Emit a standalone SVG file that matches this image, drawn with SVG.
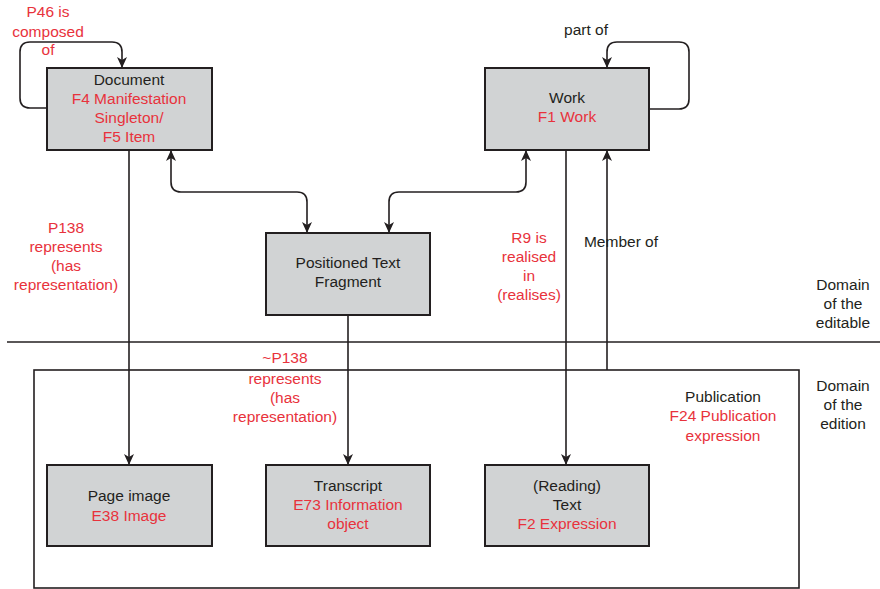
<svg xmlns="http://www.w3.org/2000/svg" width="880" height="589" viewBox="0 0 880 589">
<defs>
<marker id="ah" markerUnits="userSpaceOnUse" markerWidth="12" markerHeight="12" viewBox="0 0 12 12" refX="11" refY="6" orient="auto-start-reverse">
<path d="M0,1 L11,6 L0,11 L3,6 z" fill="#231f20"/>
</marker>
<style>
.box{fill:#d1d3d4;stroke:#231f20;stroke-width:2}
.frame{fill:none;stroke:#231f20;stroke-width:1.6}
.ln{fill:none;stroke:#231f20;stroke-width:1.6}
text{font-family:"Liberation Sans",Arial,sans-serif;font-size:15.5px;text-anchor:middle}
.k{fill:#231f20}
.r{fill:#e8323c}
</style>
</defs>
<rect width="880" height="589" fill="#ffffff"/>

<g id="separator">
<line x1="7" y1="342" x2="880" y2="342" class="ln"/>
</g>

<g id="publication">
<rect x="34" y="370" width="765" height="218" class="frame"/>
<text x="723" y="402" class="k">Publication</text>
<text x="723" y="421" class="r">F24 Publication</text>
<text x="723" y="441" class="r">expression</text>
</g>

<g id="domain-editable">
<text x="843" y="290" class="k">Domain</text>
<text x="843" y="309" class="k">of the</text>
<text x="843" y="328" class="k">editable</text>
</g>
<g id="domain-edition">
<text x="843" y="391" class="k">Domain</text>
<text x="843" y="410" class="k">of the</text>
<text x="843" y="429" class="k">edition</text>
</g>

<g id="connectors">
<path d="M47,108 H30 Q20,108 20,98 V52 Q20,42 30,42 H112 Q122,42 122,52 V68" class="ln" marker-end="url(#ah)"/>
<path d="M649,109 H679 Q689,109 689,99 V52 Q689,42 679,42 H617 Q607,42 607,52 V68" class="ln" marker-end="url(#ah)"/>
<path d="M171,150 V182 Q171,192 181,192 H297 Q307,192 307,202 V233" class="ln" marker-start="url(#ah)" marker-end="url(#ah)"/>
<path d="M389,233 V202 Q389,192 399,192 H516 Q526,192 526,182 V150" class="ln" marker-start="url(#ah)" marker-end="url(#ah)"/>
<path d="M129,150 V465" class="ln" marker-end="url(#ah)"/>
<path d="M348,315 V465" class="ln" marker-end="url(#ah)"/>
<path d="M566,150 V465" class="ln" marker-end="url(#ah)"/>
<path d="M607,370 V150" class="ln" marker-end="url(#ah)"/>
</g>

<g id="edge-labels">
<text x="48" y="17" class="r">P46 is</text>
<text x="48" y="37" class="r">composed</text>
<text x="48" y="55" class="r">of</text>
<text x="586" y="35" class="k">part of</text>
<text x="66" y="233" class="r">P138</text>
<text x="66" y="252" class="r">represents</text>
<text x="66" y="271" class="r">(has</text>
<text x="66" y="290" class="r">representation)</text>
<text x="285" y="363" class="r">~P138</text>
<text x="285" y="384" class="r">represents</text>
<text x="285" y="403" class="r">(has</text>
<text x="285" y="422" class="r">representation)</text>
<text x="529" y="243" class="r">R9 is</text>
<text x="529" y="262" class="r">realised</text>
<text x="529" y="281" class="r">in</text>
<text x="529" y="300" class="r">(realises)</text>
<text x="621" y="247" class="k">Member of</text>
</g>

<g id="document">
<rect x="47" y="68" width="165" height="82" class="box"/>
<text x="129" y="85" class="k">Document</text>
<text x="129" y="104" class="r">F4 Manifestation</text>
<text x="129" y="123" class="r">Singleton/</text>
<text x="129" y="142" class="r">F5 Item</text>
</g>

<g id="work">
<rect x="485" y="68" width="164" height="82" class="box"/>
<text x="567" y="103" class="k">Work</text>
<text x="567" y="122" class="r">F1 Work</text>
</g>

<g id="fragment">
<rect x="266" y="233" width="164" height="82" class="box"/>
<text x="348" y="268" class="k">Positioned Text</text>
<text x="348" y="287" class="k">Fragment</text>
</g>

<g id="page-image">
<rect x="47" y="465" width="165" height="81" class="box"/>
<text x="129" y="501" class="k">Page image</text>
<text x="129" y="521" class="r">E38 Image</text>
</g>

<g id="transcript">
<rect x="266" y="465" width="164" height="81" class="box"/>
<text x="348" y="491" class="k">Transcript</text>
<text x="348" y="510" class="r">E73 Information</text>
<text x="348" y="529" class="r">object</text>
</g>

<g id="reading-text">
<rect x="485" y="465" width="164" height="81" class="box"/>
<text x="567" y="491" class="k">(Reading)</text>
<text x="567" y="510" class="k">Text</text>
<text x="567" y="529" class="r">F2 Expression</text>
</g>
</svg>
